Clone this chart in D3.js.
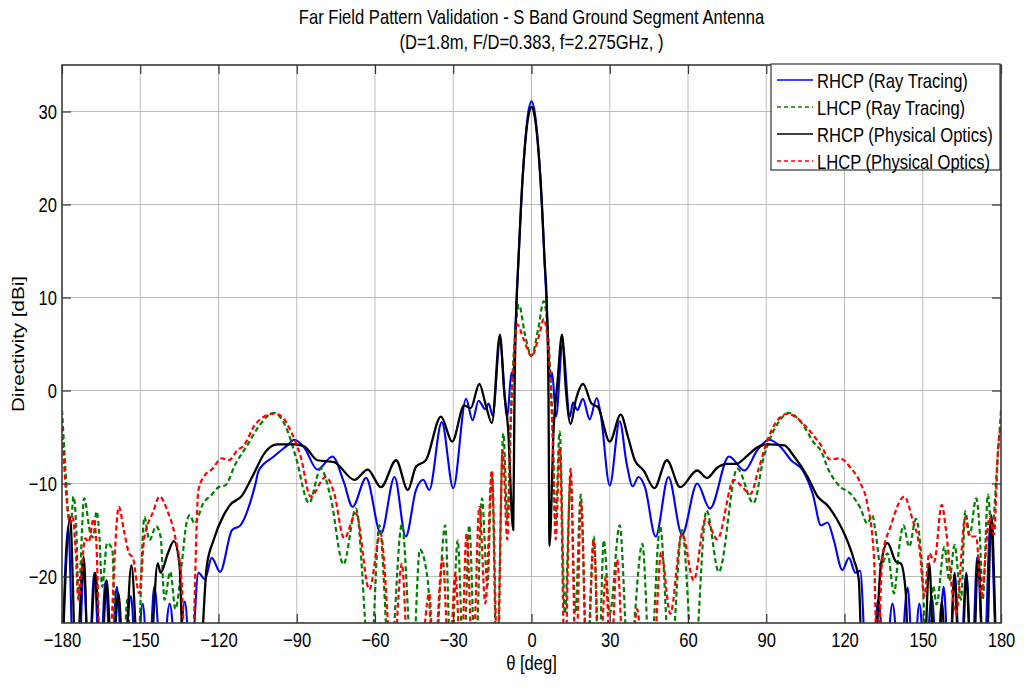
<!DOCTYPE html>
<html>
<head>
<meta charset="utf-8">
<script src="https://cdn.jsdelivr.net/npm/d3@7"></script>
<style>
  body { margin: 0; background: #fff; }
  svg { font-family: "Liberation Sans", Arial, sans-serif; }
</style>
</head>
<body>
<svg id="chart"></svg>
<script>
// directivity cuts, [theta deg, dBi]
// -30 marks a trace that dips under the bottom of the axes
var rhcpRayTracing = [
  [-180,-30],[-177.6,-14.6],[-175.6,-30],[-173.6,-30],[-171.7,-19],[-169.8,-30],[-167.6,-19.6],[-165.5,-30],
  [-163.3,-20.5],[-161.2,-30],[-159,-21.1],[-156.6,-30],[-153.6,-22.1],[-151.4,-30],[-149.1,-22.9],[-146.8,-30],
  [-144.6,-21.1],[-141.8,-30],[-138.7,-22.9],[-135.8,-30],[-132.9,-22.7],[-130.6,-30],[-127.7,-19.6],[-125.2,-20.3],
  [-122.6,-18],[-119.4,-19.5],[-114.8,-15],[-111.6,-14.5],[-107.8,-12],[-105.8,-10],[-104.6,-8.6],[-98.8,-7.1],
  [-93.6,-5.9],[-91,-5.3],[-87.2,-6.1],[-82.1,-8.5],[-76.3,-7.1],[-72,-9.8],[-68.6,-12.5],[-63.4,-9.4],
  [-57.7,-15.4],[-52.5,-9.3],[-48.2,-15.7],[-44.3,-10.7],[-41.5,-9.6],[-39.2,-10.7],[-34.4,-3.4],[-30,-10.5],
  [-25.1,-0.9],[-22.6,-3.2],[-20.3,-1.1],[-17.7,-2],[-16.4,-1.4],[-14.9,-2.7],[-12.1,5.2],[-9.3,-2.9],
  [-7.7,1.9],[-7.1,1.0],[-6.3,6],[-5.5,11],[-4.5,17],[-3.5,22.5],[-2.5,26.5],[-1.3,29.8],[0,31.1],
  [1.3,29.8],[2.5,26.5],[3.5,22.5],[4.5,17],[5.5,11],[6.3,6],[7.1,1.0],[7.9,1.9],[9.4,-2.8],[11.9,5.0],
  [14.7,-2.8],[15.9,-1.3],[17.6,-2.1],[19.7,-0.9],[22.3,-3.1],[25,-0.8],[26.5,-2.5],[30,-10.2],[33.8,-3.3],
  [36.5,-7.9],[38.8,-10.3],[41,-9.3],[43.5,-10.4],[47.6,-15.7],[52.5,-9.3],[57.7,-15.5],[63.5,-10],
  [68.4,-12.7],[75.7,-7.1],[81.7,-8.6],[86.6,-6.4],[91.1,-5.3],[95.6,-6.1],[99.5,-7.5],[104,-8.6],
  [107.8,-11.1],[111,-14.5],[113.5,-14.2],[115.9,-16.1],[119.2,-19.3],[121.7,-18],[124.2,-19.6],[126,-19.4],
  [128.5,-30],[130.8,-30],[132.9,-22.5],[135.6,-30],[138.4,-22.9],[141.2,-30],[144.2,-21.2],[146.4,-30],
  [148.7,-22.9],[151,-30],[153.4,-22.1],[155.7,-30],[158,-21.1],[160.1,-30],[162.2,-19.6],[164.4,-30],
  [166.7,-19.6],[168.8,-30],[170.9,-17.9],[173.4,-30],[176,-14.1],[178.6,-30],[180,-30]
];

var lhcpRayTracing = [
  [-180,-2.1],[-178.8,-7.9],[-177.6,-13.2],[-176.6,-14.3],[-175.6,-11.4],[-174.5,-15],[-173.7,-22.1],[-171.5,-11.6],
  [-169.1,-15.4],[-168,-15.8],[-166.8,-13],[-165.8,-15],[-164.6,-21.1],[-162.7,-16.4],[-160.7,-17.1],[-159.3,-30],
  [-156.5,-30],[-155,-22.5],[-153.2,-30],[-151.2,-30],[-148.4,-13.6],[-146.5,-16.1],[-143.9,-14.6],[-142.2,-15.7],
  [-140.7,-22.5],[-138.5,-19.5],[-136.5,-23.5],[-134.2,-18.9],[-132.3,-14.3],[-131,-13.4],[-129.2,-14.3],
  [-125.8,-12.1],[-122.6,-11.2],[-120,-10.4],[-117.4,-10.2],[-113.5,-7.9],[-109,-5.9],[-103.9,-3.6],[-98.8,-2.4],
  [-93.6,-4.3],[-90.4,-7.1],[-85.3,-12.1],[-80.8,-8.4],[-77,-11.5],[-72.1,-18.7],[-67.3,-12.7],[-61.8,-30],
  [-58.3,-14.5],[-54.3,-30],[-49.7,-14.4],[-45.6,-30],[-42.8,-17.1],[-39.8,-20.4],[-37.3,-30],[-33.1,-14.5],
  [-30.9,-30],[-28.3,-16.1],[-26,-30],[-23.9,-14.5],[-21.5,-30],[-19,-11.6],[-16.9,-21],[-15.2,-8.8],[-13.3,-30],
  [-10.8,-4.6],[-9.2,-14],[-8,-3],[-6.8,4],[-4.8,9.2],[-2.5,6],[0,3.7],[2.5,6.5],[4.7,9.6],[6.8,4],[8,-3],
  [9.2,-14],[10.8,-4.4],[12.8,-24],[15,-9.5],[16.8,-24],[18.9,-11.2],[21.2,-30],[23.9,-15.7],[25.8,-30],
  [27.7,-16.1],[30,-24],[33.8,-14.5],[37.3,-30],[42.5,-16.5],[45.5,-30],[49.3,-14.6],[53.2,-30],[57.7,-15],
  [62.2,-30],[67.1,-12.9],[71.8,-19.5],[78.9,-8.4],[85.1,-12.1],[89.1,-7.1],[94.3,-3.6],[98.8,-2.4],
  [103.3,-3.4],[108.5,-5.7],[111,-6.5],[113.8,-8.5],[117.5,-10.1],[122.6,-11.2],[126.2,-12.7],[128.7,-14.3],
  [130.7,-13.4],[131.8,-15],[133.9,-18.9],[136.5,-17.5],[139,-21.8],[140.9,-17],[142.6,-14.5],[144.8,-16.8],
  [147.4,-13.8],[149.5,-18],[151.9,-30],[154,-21],[155.3,-23],[158.3,-16.8],[160.2,-20.5],[162.2,-16.6],
  [164.7,-22.5],[166.3,-13],[168,-15.5],[170.5,-11.6],[171.8,-15],[173,-22.5],[175,-11.2],[176.5,-15.5],
  [178.3,-9],[180,-2.1]
];

var rhcpPhysicalOptics = [
  [-180,-30],[-176.9,-13.6],[-174.6,-30],[-171.7,-17.9],[-169.8,-30],[-167.2,-19.6],[-165,-30],[-162.9,-20.4],
  [-160.8,-30],[-158.4,-21.8],[-156.2,-30],[-153.4,-18.8],[-150.6,-30],[-146.5,-30],[-143.3,-18.6],[-142.2,-19.6],
  [-139.4,-17.5],[-137.1,-16.2],[-134.9,-18.9],[-133.4,-30],[-127.4,-30],[-124.5,-18.9],[-121.9,-16.1],
  [-118,-13.4],[-115.5,-12.3],[-111,-11.3],[-107.1,-9.3],[-102,-6.6],[-97.5,-5.8],[-91,-5.8],[-87.2,-6],
  [-82.1,-7.5],[-75.7,-7.7],[-67.9,-9.6],[-62.8,-8.5],[-57.7,-10.4],[-51.9,-7.5],[-47.4,-10.7],[-44.3,-8.2],
  [-40.5,-7.5],[-34.7,-2.8],[-30.4,-5.5],[-25.8,-1.6],[-23.3,-1.9],[-20,0.7],[-17.5,-1.6],[-15.2,-3.5],
  [-12.1,6],[-10.5,0],[-9,-4],[-7,-15],[-6.5,0],[-5.8,9],[-5,14],[-4,20],[-3,24.5],[-2,27.8],[-1,29.8],
  [0,30.5],[1,29.8],[2,27.8],[3,24.5],[4,20],[5,14],[5.9,9],[6.5,0],[6.9,-16.7],[8.5,-4],[10,1],[11.7,6],
  [13.2,0],[15,-3.6],[17,-1],[19.8,0.7],[23,-1.4],[25.5,-1.8],[30,-5.5],[34.2,-2.6],[37,-5],[39.6,-7.5],
  [43,-8.6],[47.1,-10.5],[51.9,-7.5],[57,-10.4],[63.5,-8.6],[67.3,-9.4],[71.2,-8.3],[75,-7.9],[78.3,-7.9],
  [82.8,-7],[86.6,-6.1],[90.4,-5.8],[96.9,-5.9],[100.7,-7.1],[105.9,-9.3],[109.7,-11.4],[113.6,-12.4],
  [117.2,-13.9],[120.4,-15.7],[123.6,-18.2],[125.5,-20.4],[126.8,-30],[131.3,-30],[133.9,-18.9],[136.5,-16.4],
  [139.7,-18.4],[141.6,-18.6],[143.5,-21.8],[144.6,-30],[150.4,-30],[152.5,-18.6],[154.4,-30],[155.6,-30],
  [157.3,-22.7],[159,-30],[160.4,-30],[162.2,-19.8],[164,-30],[164.9,-30],[166.7,-19.8],[168.5,-30],
  [169.4,-30],[171.2,-17.7],[173.4,-30],[174.3,-30],[176.3,-13.4],[178.7,-30],[180,-30]
];

var lhcpPhysicalOptics = [
  [-180,-3.9],[-178.8,-9.6],[-176.9,-14.3],[-175.9,-13.6],[-174.8,-17],[-173.7,-22.5],[-171.1,-15.9],
  [-169.8,-16.3],[-167.9,-13.8],[-166.8,-16.5],[-165.3,-30],[-162.5,-30],[-158.2,-12.5],[-156.3,-15],
  [-154.3,-17.5],[-152.8,-18],[-150.4,-21.8],[-148.5,-16],[-145,-13],[-142.6,-11.4],[-139.5,-13],[-136.8,-15.5],
  [-134.2,-20.4],[-132.5,-30],[-130.3,-30],[-127.7,-10.7],[-125.2,-9.1],[-122.6,-8.5],[-118.7,-7.3],
  [-116.1,-7.5],[-112.3,-6.3],[-110.9,-6.1],[-105.5,-3.5],[-98.8,-2.5],[-96.2,-2.7],[-92.4,-4.3],[-88.5,-7.1],
  [-84.7,-11.4],[-78.9,-9.3],[-75.7,-11],[-71.8,-15.9],[-67.3,-13.2],[-62.2,-21.4],[-57.9,-15.4],[-53.2,-30],
  [-49.7,-18.6],[-47.1,-30],[-43,-30],[-39.2,-21.8],[-37.5,-30],[-34.1,-18],[-31.5,-30],[-29.2,-19.6],[-27,-30],
  [-24.9,-15.4],[-22.5,-30],[-20,-12.5],[-17.7,-22.9],[-15.2,-8.6],[-13,-30],[-11.1,-6.4],[-9.3,-16],[-8,-4],
  [-6.8,3],[-5.5,7.1],[-3,5.5],[0,3.7],[3,6],[4.7,7.7],[6.8,3],[8,-4],[9.3,-16],[10.8,-6.2],[12.8,-30],
  [15,-8.4],[17,-30],[19,-12],[21.3,-30],[23.9,-16.1],[26,-30],[28.5,-20],[30.3,-30],[32.8,-18.2],[35.5,-30],
  [38,-30],[40.5,-23.5],[43,-30],[46.5,-30],[49.7,-17.4],[53.2,-24],[57.7,-15.4],[62.2,-20.4],[66.7,-13.8],
  [71.2,-16],[77.6,-9.6],[80.5,-10.3],[84,-11.1],[87,-8.5],[90.4,-5.4],[94.3,-3.2],[98.2,-2.5],[102,-3],
  [105.9,-4.1],[111,-5.9],[114.4,-7.4],[118.3,-7.3],[122.3,-8.3],[126.2,-10],[128.7,-12.1],[131.3,-17.9],
  [132.6,-30],[134.5,-17.9],[137.7,-14.6],[142.9,-11.4],[146.1,-13.9],[148.7,-16.8],[150.6,-22.1],[152.5,-17.5],
  [154.4,-18.4],[157.3,-12.3],[158.9,-15],[161.5,-22.1],[162.8,-24],[166.3,-13.6],[167.9,-15.7],[170.5,-15.7],
  [172.4,-22.1],[175.7,-13.6],[177.3,-15.5],[178.9,-6.1],[180,-3.9]
];

var seriesNames = ["RHCP (Ray Tracing)", "LHCP (Ray Tracing)", "RHCP (Physical Optics)", "LHCP (Physical Optics)"];
var thetaTicks = [-180, -150, -120, -90, -60, -30, 0, 30, 60, 90, 120, 150, 180];
var directivityTicks = [-20, -10, 0, 10, 20, 30];
var titleLines = ["Far Field Pattern Validation - S Band Ground Segment Antenna", "(D=1.8m, F/D=0.383, f=2.275GHz, )"];
var xTitle = "\u03b8 [deg]";
var yTitle = "Directivity [dBi]";

// the reference text is drawn tall and narrow, so stretch it vertically
var stretch = 1.24;
var fontSize = 16.6;

var lineStyles = [
  { color: "#0000ff", dash: null, width: 2.1 },
  { color: "#008000", dash: "5,3", width: 2.2 },
  { color: "#000000", dash: null, width: 2.3 },
  { color: "#ff0000", dash: "5,3", width: 2.2 }
];

var stretchedText = function (parent, str, x, y, anchor, rotate) {
  return parent
    .append("text")
    .attr("transform", "translate(" + x + "," + y + ") scale(1," + stretch + ")" + (rotate ? " rotate(" + rotate + ")" : ""))
    .attr("text-anchor", anchor)
    .attr("font-size", fontSize)
    .attr("fill", "#000")
    .text(str);
};

var initGraph = function (target) {
  var screen = { width: 1024, height: 691 };
  var margins = { top: 65, bottom: 68, left: 62, right: 23 };
  var graph = {
    width: screen.width - margins.left - margins.right,
    height: screen.height - margins.top - margins.bottom
  };

  var svg = d3.select(target).attr("width", screen.width).attr("height", screen.height);

  var xScale = d3.scaleLinear().domain([-180, 180]).range([0, graph.width]);
  var yScale = d3.scaleLinear().domain([-25, 35]).range([graph.height, 0]);

  var g = svg.append("g").attr("transform", "translate(" + margins.left + "," + margins.top + ")");

  svg.append("defs").append("clipPath").attr("id", "plotclip")
    .append("rect").attr("width", graph.width).attr("height", graph.height);

  // grid
  var grid = g.append("g").attr("stroke", "#b4b4b4").attr("stroke-width", 0.9);
  grid.selectAll("line.v")
    .data(thetaTicks.slice(1, -1))
    .enter().append("line")
    .attr("x1", function (d) { return xScale(d); })
    .attr("x2", function (d) { return xScale(d); })
    .attr("y1", 0).attr("y2", graph.height);
  grid.selectAll("line.h")
    .data(directivityTicks)
    .enter().append("line")
    .attr("y1", function (d) { return yScale(d); })
    .attr("y2", function (d) { return yScale(d); })
    .attr("x1", 0).attr("x2", graph.width);

  // curves
  var line = d3.line()
    .x(function (d) { return xScale(d[0]); })
    .y(function (d) { return yScale(d[1]); })
    .curve(d3.curveMonotoneX);

  var allSeries = [rhcpRayTracing, lhcpRayTracing, rhcpPhysicalOptics, lhcpPhysicalOptics];
  g.append("g").attr("clip-path", "url(#plotclip)")
    .selectAll("path")
    .data(allSeries)
    .enter().append("path")
    .attr("d", line)
    .attr("fill", "none")
    .attr("stroke", function (d, i) { return lineStyles[i].color; })
    .attr("stroke-width", function (d, i) { return lineStyles[i].width; })
    .attr("stroke-dasharray", function (d, i) { return lineStyles[i].dash; })
    .attr("stroke-linejoin", "round");

  // axes, ticks pointing inward on all four sides
  var tickLen = -9;
  var xAxis = g.append("g").attr("transform", "translate(0," + graph.height + ")")
    .call(d3.axisBottom(xScale).tickValues(thetaTicks).tickSize(tickLen).tickSizeOuter(0));
  var yAxis = g.append("g")
    .call(d3.axisLeft(yScale).tickValues(directivityTicks).tickSize(tickLen).tickSizeOuter(0));
  var topAxis = g.append("g")
    .call(d3.axisTop(xScale).tickValues(thetaTicks).tickSize(tickLen).tickSizeOuter(0).tickFormat(""));
  var rightAxis = g.append("g").attr("transform", "translate(" + graph.width + ",0)")
    .call(d3.axisRight(yScale).tickValues(directivityTicks).tickSize(tickLen).tickSizeOuter(0).tickFormat(""));

  [xAxis, yAxis, topAxis, rightAxis].forEach(function (a) {
    a.select(".domain").remove();
    a.attr("color", "#333").attr("font-family", null).attr("font-size", null);
    a.selectAll(".tick line").attr("stroke-width", 1.2);
  });

  xAxis.selectAll(".tick text")
    .attr("y", null).attr("dy", null)
    .attr("font-size", fontSize).attr("fill", "#000")
    .attr("transform", "translate(0,24) scale(1," + stretch + ")");
  yAxis.selectAll(".tick text")
    .attr("x", null).attr("dy", null)
    .attr("font-size", fontSize).attr("fill", "#000")
    .attr("transform", "translate(-5,7) scale(1," + stretch + ")");

  // axes box
  g.append("rect")
    .attr("width", graph.width).attr("height", graph.height)
    .attr("fill", "none").attr("stroke", "#3a3a3a").attr("stroke-width", 1.6);

  // titles and labels
  stretchedText(svg, titleLines[0], margins.left + graph.width / 2, 24, "middle");
  stretchedText(svg, titleLines[1], margins.left + graph.width / 2, 49, "middle");
  stretchedText(svg, xTitle, margins.left + graph.width / 2, 670, "middle");
  stretchedText(svg, yTitle, 24, margins.top + graph.height / 2, "middle", -90);

  // legend
  var legend = svg.append("g").attr("transform", "translate(771,64)");
  legend.append("rect")
    .attr("width", 229).attr("height", 106)
    .attr("fill", "#fff").attr("stroke", "#333").attr("stroke-width", 1.2);
  var rows = legend.selectAll("g.row")
    .data(seriesNames)
    .enter().append("g")
    .attr("transform", function (d, i) { return "translate(0," + (16 + i * 27) + ")"; });
  rows.append("line")
    .attr("x1", 6).attr("x2", 42)
    .attr("stroke", function (d, i) { return lineStyles[i].color; })
    .attr("stroke-width", 1.6)
    .attr("stroke-dasharray", function (d, i) { return lineStyles[i].dash ? "4,3" : null; });
  rows.each(function (d) {
    stretchedText(d3.select(this), d, 46, 7.5, "start");
  });
};

initGraph("#chart");
</script>
</body>
</html>
